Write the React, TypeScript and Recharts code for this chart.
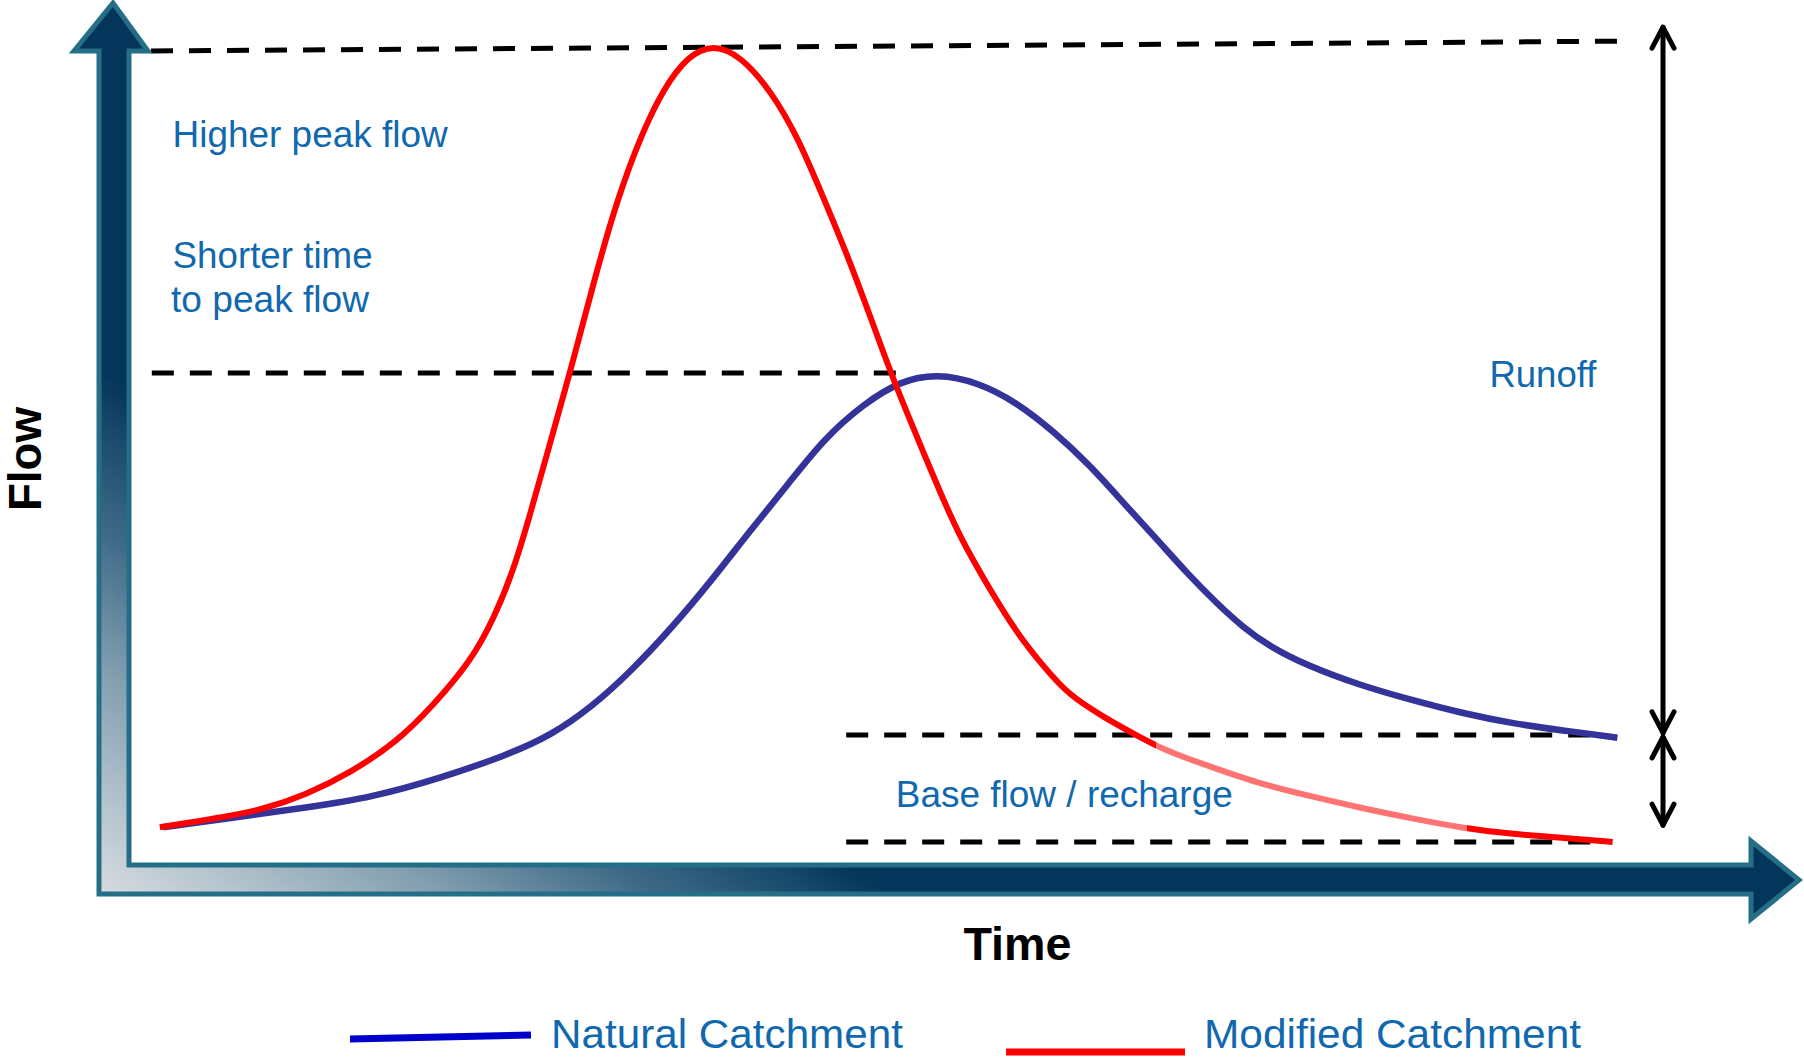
import React from 'react';
import { LineChart, Line, XAxis, YAxis, ReferenceLine, ReferenceDot, Legend } from 'recharts';

const WIDTH = 1804;
const HEIGHT = 1058;
const FONT = '"Liberation Sans", Arial, Helvetica, sans-serif';
const NOTE_COLOR = '#1068AE';

// hydrograph (time and flow in arbitrary units)
const naturalTime = [2.0, 6.8, 10.9, 15.1, 19.3, 23.5, 26.3, 28.8, 31.3, 33.8, 36.3, 38.7, 41.1, 43.3, 45.8, 48.1, 50.4, 52.9, 55.3, 57.7, 59.9, 62.2, 64.1, 66.0, 67.9, 69.5, 71.1, 73.6, 76.8, 80.0, 83.2, 86.4, 89.6, 92.9];
const naturalFlow = [5.1, 6.6, 7.9, 9.4, 12.1, 15.4, 18.3, 22.3, 27.5, 33.6, 40.4, 47.5, 54.2, 60.6, 65.6, 68.9, 69.9, 68.7, 65.9, 61.6, 56.9, 51.0, 46.3, 41.4, 37.0, 33.7, 31.0, 28.1, 25.4, 23.3, 21.4, 19.9, 18.9, 17.9];

const modifiedTime = [1.8, 5.4, 8.2, 10.9, 13.8, 16.6, 18.8, 21.3, 22.7, 23.8, 24.9, 25.9, 27.6, 29.0, 30.4, 31.9, 33.3, 34.8, 36.4, 38.1, 40.0, 41.7, 43.3, 44.8, 46.2, 47.5, 48.9, 50.5, 51.9, 53.6, 55.4, 57.1, 58.6, 60.9, 62.8, 64.7, 67.3, 70.4, 73.6, 76.8, 80.0, 83.2, 86.4, 89.6, 92.6];
const modifiedFlow = [5.1, 6.4, 7.6, 9.7, 13.0, 17.3, 22.3, 29.0, 35.1, 41.1, 49.4, 57.6, 71.4, 83.7, 94.9, 104.1, 110.7, 115.3, 117.0, 115.3, 110.3, 103.6, 94.9, 86.7, 78.1, 69.9, 62.1, 53.3, 46.1, 39.4, 32.7, 27.9, 24.0, 20.7, 18.3, 16.0, 13.9, 11.4, 9.6, 7.9, 6.4, 5.0, 4.1, 3.6, 3.0];

const seriesNames = ['Natural Catchment', 'Modified Catchment'];

const naturalData = naturalTime.map((t, i) => ({ t, flow: naturalFlow[i] }));
const modifiedData = modifiedTime.map((t, i) => ({ t, flow: modifiedFlow[i] }));

// guide lines and annotations, in chart units
const peakGuide = [{ x: 1.25, y: 116.0 }, { x: 93.1, y: 117.4 }];
const timeToPeakGuide = [{ x: 1.3, y: 70.0 }, { x: 47.9, y: 70.0 }];
const baseTopGuide = [{ x: 44.7, y: 18.3 }, { x: 91.3, y: 18.3 }];
const baseBottomGuide = [{ x: 44.7, y: 3.0 }, { x: 91.3, y: 3.0 }];
const runoffSpan = [{ x: 95.75, y: 119.4 }, { x: 95.75, y: 18.6 }];
const baseSpan = [{ x: 95.75, y: 18.0 }, { x: 95.75, y: 5.4 }];

const notes = [
  { text: 'Higher peak flow', t: 2.6, q: 102.3, len: 275 },
  { text: 'Shorter time', t: 2.6, q: 85.0, len: 200 },
  { text: 'to peak flow', t: 2.5, q: 78.7, len: 198 },
  { text: 'Runoff', t: 84.9, q: 68.0, len: 107 },
  { text: 'Base flow / recharge', t: 47.8, q: 8.0, len: 337 },
];

const AxisFrame = ({ cx, cy }: any) => {
  const pts = [
    [-32, 31], [-32, -812], [-57, -812], [-18, -860], [17, -812], [-2, -812], [-2, 2],
    [1620, 2], [1620, -22], [1668, 17], [1620, 56], [1620, 31],
  ];
  const d = pts.map(([dx, dy], i) => `${i ? 'L' : 'M'}${cx + dx},${cy + dy}`).join(' ') + ' Z';
  return (
    <g>
      <defs>
        <linearGradient id="frameFill" gradientUnits="userSpaceOnUse" x1={cx - 34} y1={cy + 33} x2={cx + 209} y2={cy - 335}>
          <stop offset="0" stopColor="#D8DDE1" />
          <stop offset="0.2" stopColor="#B2C2CC" />
          <stop offset="0.45" stopColor="#7F9CAE" />
          <stop offset="0.7" stopColor="#3E6A87" />
          <stop offset="0.9" stopColor="#17496B" />
          <stop offset="1" stopColor="#04355A" />
        </linearGradient>
      </defs>
      <path d={d} fill="url(#frameFill)" stroke="#246F87" strokeWidth={5} strokeLinejoin="miter" />
    </g>
  );
};

const DoubleArrow = (props: any) => {
  const { x1, y1, x2, y2 } = props;
  const top = Math.min(y1, y2);
  const bottom = Math.max(y1, y2);
  const x = x1;
  return (
    <g stroke="#000" strokeWidth={5} fill="none" strokeLinecap="round" strokeLinejoin="round">
      <line x1={x} y1={top} x2={x2} y2={bottom} />
      <polyline points={`${x - 11},${top + 21} ${x},${top} ${x + 11},${top + 21}`} />
      <polyline points={`${x - 11},${bottom - 21} ${x},${bottom} ${x + 11},${bottom - 21}`} />
    </g>
  );
};

const noteShape = (text: string, len: number) => ({ cx, cy }: any) => (
  <text x={cx} y={cy} fill={NOTE_COLOR} fontFamily={FONT} fontSize={37} textLength={len} lengthAdjust="spacingAndGlyphs">
    {text}
  </text>
);

const TimeTitle = ({ cx, cy }: any) => (
  <text x={cx} y={cy} textAnchor="middle" fontFamily={FONT} fontWeight="bold" fontSize={47} fill="#000" textLength={108} lengthAdjust="spacingAndGlyphs">
    Time
  </text>
);

const FlowTitle = ({ cx, cy }: any) => (
  <text x={cx} y={cy} transform={`rotate(-90 ${cx} ${cy})`} textAnchor="middle" fontFamily={FONT} fontWeight="bold" fontSize={46} fill="#000" textLength={104} lengthAdjust="spacingAndGlyphs">
    Flow
  </text>
);

const LegendContent = () => (
  <svg width={WIDTH} height={58} style={{ display: 'block', overflow: 'visible' }}>
    <line x1={350} y1={39} x2={531} y2={35} stroke="#0000CC" strokeWidth={7} />
    <text x={551} y={48} fill={NOTE_COLOR} fontFamily={FONT} fontSize={41} textLength={352} lengthAdjust="spacingAndGlyphs">
      {seriesNames[0]}
    </text>
    <line x1={1006} y1={52} x2={1185} y2={52} stroke="#FF0000" strokeWidth={7} />
    <text x={1204} y={48} fill={NOTE_COLOR} fontFamily={FONT} fontSize={41} textLength={377} lengthAdjust="spacingAndGlyphs">
      {seriesNames[1]}
    </text>
  </svg>
);

export default function App() {
  return (
    <div style={{ position: 'absolute', left: 0, top: 0, width: WIDTH, height: HEIGHT, background: '#fff', overflow: 'hidden' }}>
      <LineChart width={WIDTH} height={HEIGHT} margin={{ top: 23, right: 73, bottom: 195, left: 131 }}>
        <defs>
          <linearGradient id="modifiedStroke" gradientUnits="userSpaceOnUse" x1="0" y1="0" x2={WIDTH} y2="0">
            <stop offset="0" stopColor="#FF0000" />
            <stop offset="0.6408" stopColor="#FF0000" />
            <stop offset="0.6408" stopColor="#FF7373" />
            <stop offset="0.8132" stopColor="#FF7373" />
            <stop offset="0.8132" stopColor="#FF0000" />
            <stop offset="1" stopColor="#FF0000" />
          </linearGradient>
        </defs>
        <XAxis type="number" dataKey="t" domain={[0, 100]} hide />
        <YAxis type="number" domain={[0, 120]} hide />

        <ReferenceDot x={0} y={0} ifOverflow="visible" shape={AxisFrame} />

        <ReferenceLine segment={peakGuide} stroke="#000" strokeWidth={5} strokeDasharray="22 16" ifOverflow="visible" />
        <ReferenceLine segment={timeToPeakGuide} stroke="#000" strokeWidth={5} strokeDasharray="22 16" ifOverflow="visible" />
        <ReferenceLine segment={baseTopGuide} stroke="#000" strokeWidth={5} strokeDasharray="22 16" ifOverflow="visible" />
        <ReferenceLine segment={baseBottomGuide} stroke="#000" strokeWidth={5} strokeDasharray="22 16" ifOverflow="visible" />
        <ReferenceLine segment={runoffSpan} shape={DoubleArrow} ifOverflow="visible" />
        <ReferenceLine segment={baseSpan} shape={DoubleArrow} ifOverflow="visible" />

        <Line data={naturalData} dataKey="flow" name={seriesNames[0]} type="basis" stroke="#333399" strokeWidth={6.5} dot={false} activeDot={false} isAnimationActive={false} />
        <Line data={modifiedData} dataKey="flow" name={seriesNames[1]} type="basis" stroke="url(#modifiedStroke)" strokeWidth={6} dot={false} activeDot={false} isAnimationActive={false} />

        {notes.map((n) => (
          <ReferenceDot key={n.text} x={n.t} y={n.q} ifOverflow="visible" shape={noteShape(n.text, n.len)} />
        ))}
        <ReferenceDot x={55.4} y={-13.9} ifOverflow="visible" shape={TimeTitle} />
        <ReferenceDot x={-5.6} y={57.7} ifOverflow="visible" shape={FlowTitle} />

        <Legend layout="vertical" align="center" verticalAlign="middle" width={WIDTH} height={58} wrapperStyle={{ left: 0, top: 1000 }} content={LegendContent} />
      </LineChart>
    </div>
  );
}
